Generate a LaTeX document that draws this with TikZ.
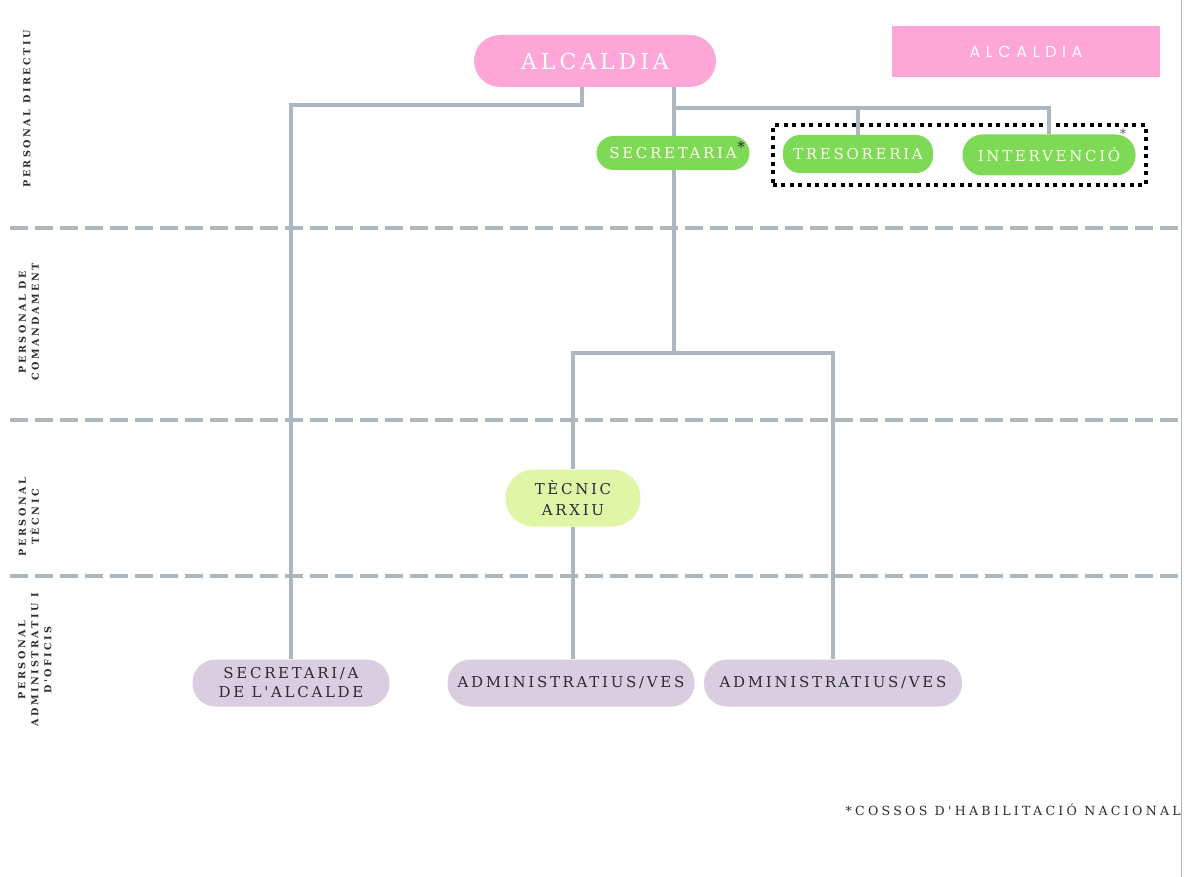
\documentclass[tikz,border=0pt]{standalone}
\usepackage{fontspec}
\setmainfont{DejaVu Serif}
\newfontfamily\orgfont[LetterSpace=18]{DejaVu Serif}
\newfontfamily\wideorgfont[LetterSpace=26]{DejaVu Serif}
\newfontfamily\tagfont[LetterSpace=35]{Poppins}
\usetikzlibrary{fit}

\definecolor{alcpink}{HTML}{FFA6D9}
\definecolor{secgreen}{HTML}{7ED957}
\definecolor{teclime}{HTML}{E1F5A7}
\definecolor{admlilac}{HTML}{D9CDE0}
\definecolor{linkgray}{HTML}{ADB7BF}
\definecolor{inkdark}{HTML}{2B2B33}

\begin{document}
\begin{tikzpicture}[x=1pt,y=-1pt]
    \tikzstyle{top} = [fill=alcpink, text=white, rounded corners=26pt, inner sep=0pt,
        minimum height=52pt, font=\orgfont\fontsize{22}{26}\selectfont]
    \tikzstyle{chief} = [fill=secgreen, text=white!92!yellow, rounded corners=17pt, inner sep=0pt,
        minimum height=36pt, font=\orgfont\fontsize{15}{18}\selectfont]
    \tikzstyle{tech} = [fill=teclime, text=inkdark, rounded corners=28pt, inner sep=0pt,
        minimum height=57pt, align=center, font=\orgfont\fontsize{15}{21}\selectfont]
    \tikzstyle{staff} = [fill=admlilac, text=inkdark, rounded corners=23pt, inner sep=0pt,
        minimum height=47pt, align=center, font=\orgfont\fontsize{15}{19}\selectfont]
    \tikzstyle{band} = [rotate=90, align=center, text=inkdark,
        font=\wideorgfont\bfseries\fontsize{9.6}{13}\selectfont]
    \tikzstyle{link} = [draw=linkgray, line width=4.5pt]
    \tikzstyle{sep} = [draw=linkgray, line width=4pt, dash pattern=on 18pt off 7pt]
    \tikzstyle{note} = [text=inkdark, inner sep=0pt]

    \useasboundingbox (0,0) rectangle (1188,877);
    \draw [linkgray, line width=1pt] (1181,0) -- (1181,877);

    % level bands
    \draw [sep] (10,228) -- (1180,228);
    \draw [sep] (10,420) -- (1180,420);
    \draw [sep] (10,576) -- (1180,576);

    \node [band] (dir) at (27,109) {PERSONAL DIRECTIU};
    \node [band] (com) at (29,322) {PERSONAL DE\\COMANDAMENT};
    \node [band] (tcn) at (29,517) {PERSONAL\\TÈCNIC};
    \node [band] (adf) at (35,660) {PERSONAL\\ADMINISTRATIU I\\D'OFICIS};

    % posts
    \node [top, minimum width=242pt] (alc) at (595,61) {ALCALDIA};
    \node [fill=alcpink, text=white, minimum width=268pt, minimum height=51pt, inner sep=0pt,
        font=\tagfont\fontsize{16}{18}\selectfont] (tag) at (1026,52) {ALCALDIA};

    \node [chief, minimum width=153pt, minimum height=34pt] (sec) at (673,153) {SECRETARIA};
    \node [chief, minimum width=150pt, minimum height=38pt] (tres) at (858,154) {TRESORERIA};
    \node [chief, minimum width=173pt, minimum height=41pt, rounded corners=20pt] (inte) at (1049,155) {INTERVENCIÓ};
    \node [draw, line width=4pt, dash pattern=on 4pt off 4.5pt, inner xsep=10pt, inner ysep=9pt,
        fit=(tres)(inte)] (hab) {};
    \node [note, font=\fontsize{15}{15}\selectfont] (ast1) at (741,147) {*};
    \node [note, text=gray!80!black, font=\fontsize{13}{13}\selectfont] (ast2) at (1123,134) {*};

    \node [tech, minimum width=135pt] (tec) at (573,498) {TÈCNIC\\ARXIU};

    \node [staff, minimum width=197pt] (sal) at (291,683) {SECRETARI/A\\DE L'ALCALDE};
    \node [staff, minimum width=247pt] (adm1) at (571,683) {ADMINISTRATIUS/VES};
    \node [staff, minimum width=258pt] (adm2) at (833,683) {ADMINISTRATIUS/VES};

    \node [note, anchor=east, font=\wideorgfont\fontsize{12.6}{14}\selectfont] (foot) at (1181,810)
        {*COSSOS D'HABILITACIÓ NACIONAL};

    % connectors
    \coordinate (split) at (674,108);
    \coordinate (hub) at (674,353);
    \draw [link] ([xshift=-13pt]alc.south) -- ++(0,18) -| (sal.north);
    \draw [link] (alc.south -| split) -- (split |- sec.north);
    \draw [link] (split) -| (inte.north);
    \draw [link] (split -| tres.north) -- (tres.north);
    \draw [link] (sec.south -| split) -- (hub);
    \draw [link] (tec.north) |- (hub) -| (adm2.north);
    \draw [link] (tec.south) -- (tec.south |- adm1.north);
\end{tikzpicture}
\end{document}
